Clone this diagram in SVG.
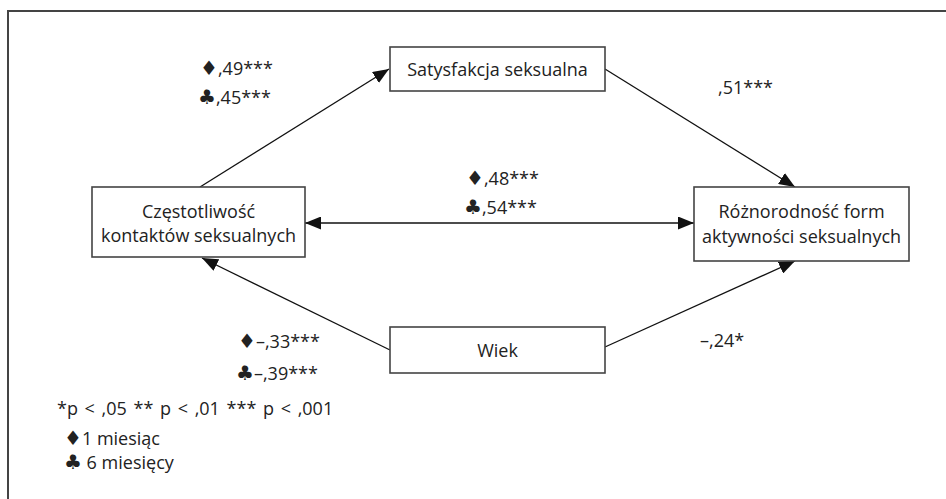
<svg xmlns="http://www.w3.org/2000/svg" width="946" height="499" viewBox="0 0 946 499">
<defs>
<marker id="arr" viewBox="0 0 16 13" refX="16" refY="6.5" markerWidth="16" markerHeight="13" markerUnits="userSpaceOnUse" orient="auto-start-reverse">
<path d="M0,0 L16,6.5 L0,13 Z" fill="#111"/>
</marker>
</defs>
<style>
.box{fill:#fff;stroke:#444;stroke-width:1.6}
.t{font-family:"Open Sans","Liberation Sans",sans-serif;font-size:18px;fill:#222;text-anchor:middle}
.l{font-family:"Open Sans","Liberation Sans",sans-serif;font-size:18px;fill:#222}
.s{font-family:"DejaVu Sans",sans-serif;font-size:20px}
.c{fill:none;stroke:#111;stroke-width:1.3}
.frame{fill:none;stroke:#444;stroke-width:2}
</style>
<rect width="946" height="499" fill="#fff"/>
<path class="frame" d="M8,499 L8,11 L946,11"/>
<g id="connectors">
<path class="c" d="M200,187 L389,69" marker-end="url(#arr)"/>
<path class="c" d="M605,69 L795,187" marker-end="url(#arr)"/>
<path class="c" d="M305,223 L694,223" marker-start="url(#arr)" marker-end="url(#arr)"/>
<path class="c" d="M390,350 L202,258" marker-end="url(#arr)"/>
<path class="c" d="M605,347 L795,261" marker-end="url(#arr)"/>
</g>
<g id="satysfakcja">
<rect class="box" x="390" y="47" width="215" height="44"/>
<text class="t" x="497.5" y="76">Satysfakcja seksualna</text>
</g>
<g id="czestotliwosc">
<rect class="box" x="92" y="187" width="213" height="70"/>
<text class="t" x="198.5" y="218">Częstotliwość</text>
<text class="t" x="198.5" y="242">kontaktów seksualnych</text>
</g>
<g id="roznorodnosc">
<rect class="box" x="694" y="187" width="215" height="74"/>
<text class="t" x="801.5" y="218">Różnorodność form</text>
<text class="t" x="801.5" y="243">aktywności seksualnych</text>
</g>
<g id="wiek">
<rect class="box" x="390" y="327" width="215" height="46"/>
<text class="t" x="497.5" y="357">Wiek</text>
</g>
<g id="labels">
<text class="l" x="200" y="75"><tspan class="s">♦</tspan>,49***</text>
<text class="l" x="198" y="104"><tspan class="s">♣</tspan>,45***</text>
<text class="l" x="718" y="94">,51***</text>
<text class="l" x="466" y="185"><tspan class="s">♦</tspan>,48***</text>
<text class="l" x="464" y="214"><tspan class="s">♣</tspan>,54***</text>
<text class="l" x="238" y="348"><tspan class="s">♦</tspan>–,33***</text>
<text class="l" x="236" y="380"><tspan class="s">♣</tspan>–,39***</text>
<text class="l" x="700" y="347">–,24*</text>
</g>
<g id="legend">
<text class="l" x="57" y="415" word-spacing="2">*p &lt; ,05 ** p &lt; ,01 *** p &lt; ,001</text>
<text class="l" x="64" y="445"><tspan class="s">♦</tspan>1 miesiąc</text>
<text class="l" x="64" y="469"><tspan class="s">♣</tspan> 6 miesięcy</text>
</g>
</svg>
